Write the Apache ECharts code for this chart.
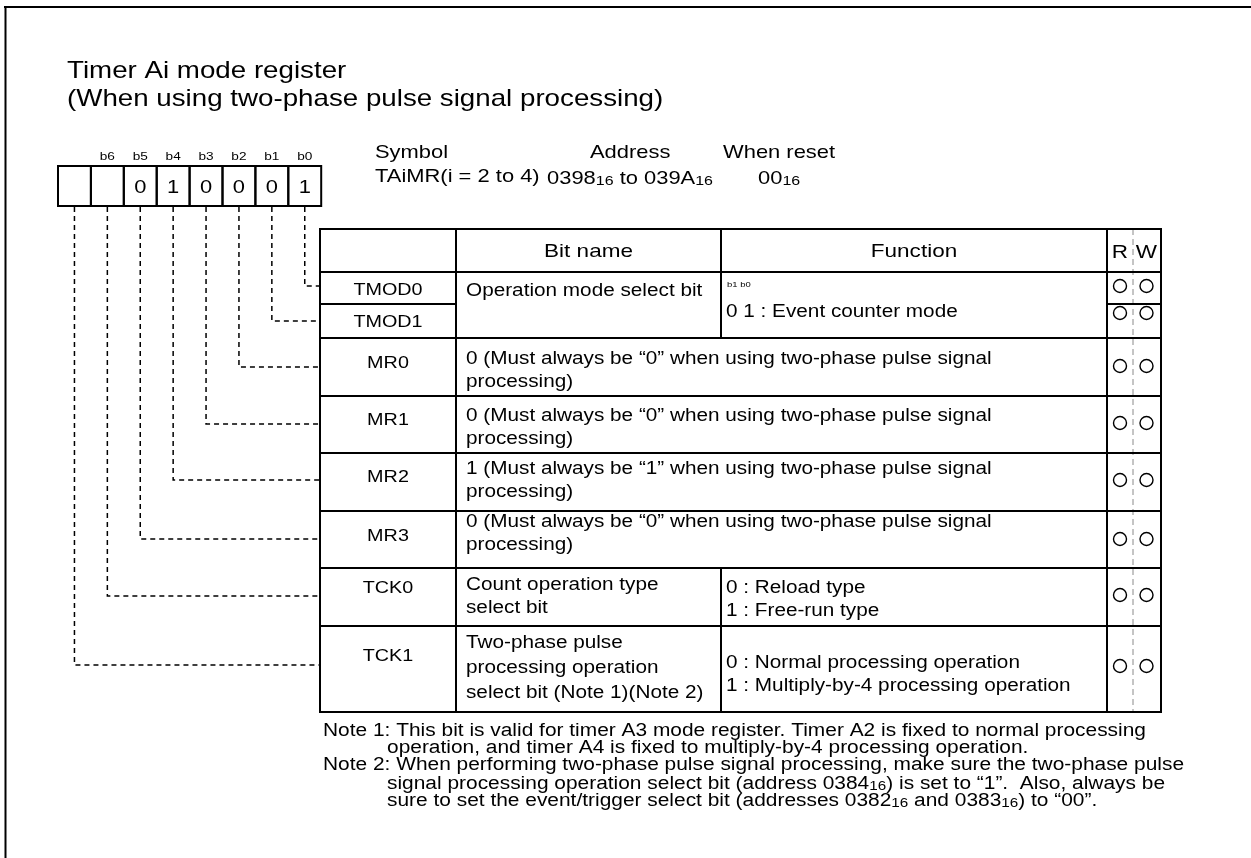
<!DOCTYPE html>
<html>
<head>
<meta charset="utf-8">
<script src="https://cdn.jsdelivr.net/npm/echarts@6/dist/echarts.min.js"></script>
<style>html,body{margin:0;padding:0;background:#fff}#c{width:1251px;height:858px}</style>
</head>
<body>
<div id="c"></div>
<script>
// ---------------- data ----------------
const titleLines = ['Timer Ai mode register', '(When using two-phase pulse signal processing)'];
const bitLabels = ['', 'b6', 'b5', 'b4', 'b3', 'b2', 'b1', 'b0'];
const bitValues = ['', '', '0', '1', '0', '0', '0', '1'];
const symbolHeaders = ['Symbol', 'Address', 'When reset'];
const symbolValues = ['TAiMR(i = 2 to 4)', '0398_{16} to 039A_{16}', '00_{16}'];
const headerLabels = ['Bit name', 'Function'];
const rwLabels = ['R', 'W'];
const rowSymbols = ['TMOD0', 'TMOD1', 'MR0', 'MR1', 'MR2', 'MR3', 'TCK0', 'TCK1'];
const rowBits = [0, 1, 2, 3, 4, 5, 6, 7];          // register bit wired to each row
const rowReadable = [true, true, true, true, true, true, true, true];
const rowWritable = [true, true, true, true, true, true, true, true];
const fieldRowSpans = [[0, 1], [2, 2], [3, 3], [4, 4], [5, 5], [6, 6], [7, 7]];
const fieldBitNames = [
  ['Operation mode select bit'],
  null, null, null, null,
  ['Count operation type', 'select bit'],
  ['Two-phase pulse', 'processing operation', 'select bit (Note 1)(Note 2)']
];
const fieldCaptions = ['b1 b0', '', '', '', '', '', ''];
const fieldFunctions = [
  ['0 1 : Event counter mode'],
  ['0 (Must always be “0” when using two-phase pulse signal', 'processing)'],
  ['0 (Must always be “0” when using two-phase pulse signal', 'processing)'],
  ['1 (Must always be “1” when using two-phase pulse signal', 'processing)'],
  ['0 (Must always be “0” when using two-phase pulse signal', 'processing)'],
  ['0 : Reload type', '1 : Free-run type'],
  ['0 : Normal processing operation', '1 : Multiply-by-4 processing operation']
];
const noteLines = [
  ['Note 1: ', 'This bit is valid for timer A3 mode register. Timer A2 is fixed to normal processing'],
  ['', 'operation, and timer A4 is fixed to multiply-by-4 processing operation.'],
  ['Note 2: ', 'When performing two-phase pulse signal processing, make sure the two-phase pulse'],
  ['', 'signal processing operation select bit (address 0384_{16}) is set to “1”.  Also, always be'],
  ['', 'sure to set the event/trigger select bit (addresses 0382_{16} and 0383_{16}) to “00”.']
];

// ---------------- layout ----------------
const W = 1251, H = 858;
const SX = 1.185;
const FONT = '"Liberation Sans", Arial, Helvetica, sans-serif';
const BOX = {x: 58, y: 166, w: 32.9, h: 40};
const COLS = [320, 456, 721, 1107, 1161];
const HEAD_TOP = 229;
const ROW_EDGES = [272, 304, 338, 396, 453, 511, 568, 626, 712];
const ANCHOR_Y = [286, 321, 367, 424, 480, 539, 596, 665];
const CIRCLE_Y = [286, 313, 366, 423, 480, 539, 595, 666];
const NAME_Y = [290, 322, 363, 420, 477, 536, 588, 656];
const BITNAME_Y0 = [291, 0, 0, 0, 0, 585, 643];
const FUNC_Y0 = [312, 359, 416, 469, 522, 588, 663];
const LINE_GAP = 23.5;
const RW_X = [1120, 1146.5];
const RW_MID = 1133;

const cellCx = i => BOX.x + (i + 0.5) * BOX.w;
const bitCx = b => cellCx(7 - b);

// rectangles
const rects = [];
for (let i = 0; i < 8; i++) rects.push([BOX.x + i * BOX.w, BOX.y, BOX.x + (i + 1) * BOX.w, BOX.y + BOX.h]);
for (let c = 0; c < 4; c++) rects.push([COLS[c], HEAD_TOP, COLS[c + 1], ROW_EDGES[0]]);
rowSymbols.forEach((s, i) => {
  rects.push([COLS[0], ROW_EDGES[i], COLS[1], ROW_EDGES[i + 1]]);
  rects.push([COLS[3], ROW_EDGES[i], COLS[4], ROW_EDGES[i + 1]]);
});
fieldRowSpans.forEach(([a, b], f) => {
  const y1 = ROW_EDGES[a], y2 = ROW_EDGES[b + 1];
  if (fieldBitNames[f]) {
    rects.push([COLS[1], y1, COLS[2], y2]);
    rects.push([COLS[2], y1, COLS[3], y2]);
  } else {
    rects.push([COLS[1], y1, COLS[3], y2]);
  }
});

// connectors [x, yTop, yRow, xEnd]
const links = rowSymbols.map((s, i) => [bitCx(rowBits[i]), BOX.y + BOX.h + 1, ANCHOR_Y[i], COLS[0]]);

// circles
const circles = [];
rowSymbols.forEach((s, i) => {
  if (rowReadable[i]) circles.push([RW_X[0], CIRCLE_Y[i]]);
  if (rowWritable[i]) circles.push([RW_X[1], CIRCLE_Y[i]]);
});

// lines [x1,y1,x2,y2,dashed]
const lines = [
  [4, 7, W, 7, 0],
  [5.5, 6, 5.5, H, 0],
  [RW_MID, HEAD_TOP, RW_MID, ROW_EDGES[ROW_EDGES.length - 1], 1]
];

// texts
const texts = [];
const T = (x, y, text, size, align) => texts.push({x, y, text, size, align: align || 'left'});
titleLines.forEach((t, i) => T(67, 71.5 + i * 28, t, 23.4));
bitLabels.forEach((t, i) => { if (t) T(cellCx(i), 157, t, 11.5, 'center'); });
bitValues.forEach((t, i) => { if (t) T(cellCx(i), 188, t, 18.5, 'center'); });
const SYM_X = [375, 590, 723], SYMV_X = [375, 547, 758];
symbolHeaders.forEach((t, i) => T(SYM_X[i], 153, t, 18.5));
symbolValues.forEach((t, i) => T(SYMV_X[i], 177, t, 18.5));
headerLabels.forEach((t, i) => T((COLS[i + 1] + COLS[i + 2]) / 2, 252, t, 19, 'center'));
rwLabels.forEach((t, i) => T(RW_X[i], 253, t, 19, 'center'));
rowSymbols.forEach((t, i) => T((COLS[0] + COLS[1]) / 2, NAME_Y[i], t, 16.7, 'center'));
fieldBitNames.forEach((ls, f) => {
  if (ls) ls.forEach((t, k) => T(466, BITNAME_Y0[f] + k * (ls.length > 2 ? 25 : LINE_GAP), t, 17.5));
});
fieldCaptions.forEach((t, f) => { if (t) T(727, FUNC_Y0[f] - 27, t, 8); });
fieldFunctions.forEach((ls, f) => {
  const x = fieldBitNames[f] ? 726 : 466;
  ls.forEach((t, k) => T(x, FUNC_Y0[f] + k * (fieldBitNames[f] ? 23.5 : 23), t, 17.5));
});
noteLines.forEach(([lead, t], i) => {
  const y = 731 + i * 17.2;
  if (lead) T(323, y, lead + t, 17.65);
  else T(387, y, t, 17.65);
});

function toRich(str) {
  if (str.indexOf('_{') < 0) return null;
  const parts = str.split(/_\{(\d+)\}/);
  let out = '';
  parts.forEach((p, i) => { if (p) out += (i % 2 ? '{s|' : '{a|') + p + '}'; });
  return out;
}

// ---------------- chart ----------------
const chart = echarts.init(document.getElementById('c'), null, {renderer: 'canvas'});
const P = (api, x, y) => api.coord([x, y]);

chart.setOption({
  animation: false,
  backgroundColor: '#ffffff',
  grid: {left: 0, right: 0, top: 0, bottom: 0},
  xAxis: {type: 'value', min: 0, max: W, show: false},
  yAxis: {type: 'value', min: 0, max: H, inverse: true, show: false},
  series: [
    {
      type: 'custom', silent: true, data: lines,
      renderItem(params, api) {
        const a = P(api, api.value(0), api.value(1)), b = P(api, api.value(2), api.value(3));
        const dashed = api.value(4) === 1;
        return {type: 'line', shape: {x1: a[0], y1: a[1], x2: b[0], y2: b[1]},
          style: {stroke: dashed ? '#8a8a8a' : '#000', lineWidth: dashed ? 1 : 2, lineDash: dashed ? [6, 4] : null}};
      }
    },
    {
      type: 'custom', silent: true, data: rects,
      renderItem(params, api) {
        const a = P(api, api.value(0), api.value(1)), b = P(api, api.value(2), api.value(3));
        return {type: 'rect', shape: {x: a[0], y: a[1], width: b[0] - a[0], height: b[1] - a[1]},
          style: {fill: null, stroke: '#000', lineWidth: 2}};
      }
    },
    {
      type: 'custom', silent: true, data: links,
      renderItem(params, api) {
        const x = api.value(0), y1 = api.value(1), y2 = api.value(2), x2 = api.value(3);
        return {type: 'polyline', shape: {points: [P(api, x, y1), P(api, x, y2), P(api, x2, y2)]},
          style: {fill: null, stroke: '#000', lineWidth: 1.5, lineDash: [5, 4]}};
      }
    },
    {
      type: 'custom', silent: true, data: circles,
      renderItem(params, api) {
        const c = P(api, api.value(0), api.value(1));
        return {type: 'circle', shape: {cx: c[0], cy: c[1], r: 6.5},
          style: {fill: null, stroke: '#000', lineWidth: 1.4}};
      }
    },
    {
      type: 'custom', silent: true, data: texts.map(t => [t.x, t.y]),
      renderItem(params, api) {
        const t = texts[params.dataIndex];
        const p = P(api, api.value(0), api.value(1));
        const rich = toRich(t.text);
        const style = {
          x: 0, y: 0, fill: '#000',
          font: t.size + 'px ' + FONT,
          align: t.align, verticalAlign: 'middle',
          textAlign: t.align, textVerticalAlign: 'middle'
        };
        if (rich) {
          style.text = rich;
          style.rich = {
            a: {fontSize: t.size, fontFamily: FONT, lineHeight: t.size * 1.2, verticalAlign: 'bottom', fill: '#000'},
            s: {fontSize: t.size * 0.73, fontFamily: FONT, lineHeight: t.size * 1.2, verticalAlign: 'bottom', fill: '#000'}
          };
        } else {
          style.text = t.text;
        }
        return {type: 'text', x: p[0], y: p[1], scaleX: SX, scaleY: 1, style};
      }
    }
  ]
});
</script>
</body>
</html>
